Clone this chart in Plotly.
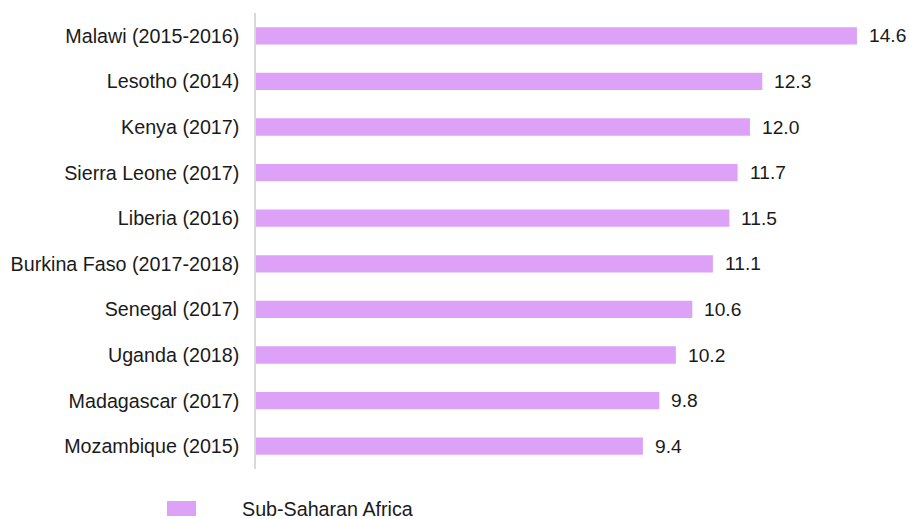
import plotly.graph_objects as go

countries = [
    "Malawi (2015-2016)", "Lesotho (2014)", "Kenya (2017)", "Sierra Leone (2017)",
    "Liberia (2016)", "Burkina Faso (2017-2018)", "Senegal (2017)", "Uganda (2018)",
    "Madagascar (2017)", "Mozambique (2015)",
]
values = [14.6, 12.3, 12.0, 11.7, 11.5, 11.1, 10.6, 10.2, 9.8, 9.4]
series_name = "Sub-Saharan Africa"

BAR = "#DDA2F8"
FONT = "Liberation Sans, Arial, sans-serif"
FS = 19.2
FS_LBL = 19.7

fig = go.Figure()
fig.add_trace(go.Bar(
    x=values, y=countries, orientation="h", marker=dict(color=BAR, line=dict(width=0)),
    name=series_name, showlegend=False, hoverinfo="x+y",
))

annotations = []
for c, v in zip(countries, values):
    annotations.append(dict(
        x=v, y=c, xref="x", yref="y", text=f"{v:.1f}", showarrow=False,
        xanchor="left", yanchor="middle", xshift=10,
        font=dict(family=FONT, size=FS, color="#1a1a1a"),
    ))

# legend drawn manually
W, H = 909, 519
L, R, T, B = 256, 15, 13, 50
pw, ph = W - L - R, H - T - B
def px(x):
    return (x - L) / pw
def py(y):
    return (H - B - y) / ph

annotations.append(dict(
    x=px(240), y=py(509), xref="paper", yref="paper", text=series_name,
    showarrow=False, xanchor="left", yanchor="middle",
    font=dict(family=FONT, size=FS_LBL, color="#1a1a1a"),
))
shapes = [dict(
    type="rect", xref="paper", yref="paper",
    x0=px(167), x1=px(196), y0=py(516), y1=py(501),
    fillcolor=BAR, line=dict(width=0),
)]

fig.update_layout(
    width=W, height=H,
    margin=dict(l=L, r=R, t=T, b=B),
    paper_bgcolor="white", plot_bgcolor="white",
    bargap=0.62,
    font=dict(family=FONT, size=FS, color="#1a1a1a"),
    annotations=annotations, shapes=shapes,
    xaxis=dict(range=[0, 15.5], visible=False, fixedrange=True),
    yaxis=dict(
        autorange="reversed", showline=True, linecolor="#d9d9d9", linewidth=1.5,
        ticks="", ticklabelstandoff=11, showgrid=False, zeroline=False,
        tickfont=dict(family=FONT, size=FS_LBL, color="#1a1a1a"),
    ),
)

fig.write_html("out.html", config={"displayModeBar": False})

# remove default body margin so the figure fills the window exactly
with open("out.html", "r", encoding="utf-8") as f:
    html = f.read()
html = html.replace("<head>", "<head><style>html,body{margin:0;padding:0;overflow:hidden;}</style>", 1)
with open("out.html", "w", encoding="utf-8") as f:
    f.write(html)
